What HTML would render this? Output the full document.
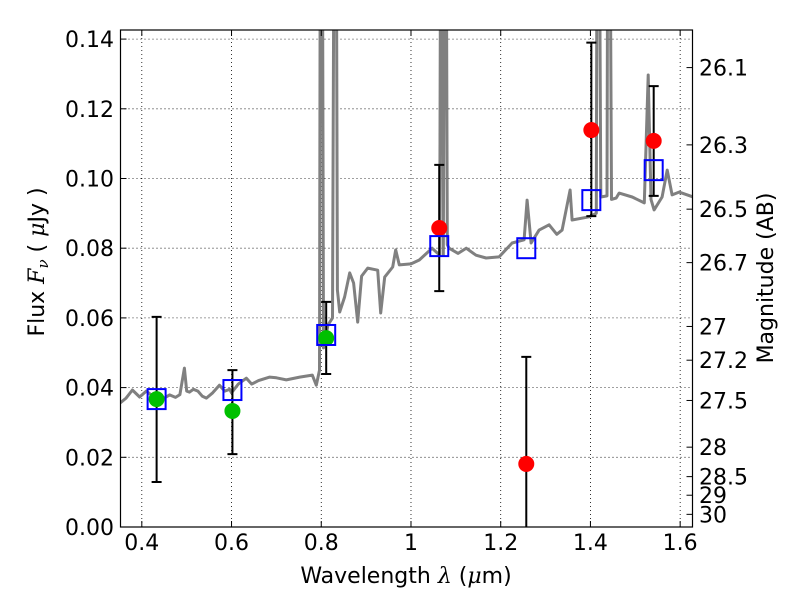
<!DOCTYPE html>
<html><head><meta charset="utf-8"><style>
body{margin:0;background:#fff}
svg text{font-family:"DejaVu Sans","Liberation Sans",sans-serif;fill:#000}
</style></head><body>
<svg id="chart" width="800" height="600" xmlns="http://www.w3.org/2000/svg">
<rect width="800" height="600" fill="#fff"/>
<g id="grid"></g><g id="spec"></g><g id="marks"></g><g id="axes"></g>
</svg>
<script>
const xTicks=[0.4,0.6,0.8,1.0,1.2,1.4,1.6];
const xTickLabels=["0.4","0.6","0.8","1","1.2","1.4","1.6"];
const yTicks=[0,0.02,0.04,0.06,0.08,0.10,0.12,0.14];
const yTickLabels=["0.00","0.02","0.04","0.06","0.08","0.10","0.12","0.14"];
const magTicks=[26.1,26.3,26.5,26.7,27,27.2,27.5,28,28.5,29,30];
const magTickLabels=["26.1","26.3","26.5","26.7","27","27.2","27.5","28","28.5","29","30"];
const specLam=[0.352,0.365,0.379,0.395,0.41,0.42,0.44,0.45,0.462,0.475,0.485,0.495,0.5,0.506,0.515,0.525,0.535,0.544,0.558,0.573,0.585,0.596,0.6,0.615,0.633,0.645,0.66,0.685,0.7,0.722,0.752,0.78,0.789,0.796,0.798,0.802,0.805,0.815,0.825,0.829,0.833,0.836,0.841,0.852,0.8635,0.872,0.8813,0.89,0.9036,0.9259,0.9326,0.9415,0.9593,0.966,0.9739,1.0,1.0185,1.047,1.064,1.0665,1.069,1.072,1.0755,1.078,1.081,1.085,1.105,1.123,1.145,1.1675,1.1965,1.2254,1.2522,1.2588,1.2677,1.2856,1.3079,1.325,1.3368,1.3546,1.3591,1.397,1.413,1.415,1.419,1.423,1.437,1.439,1.443,1.447,1.4574,1.464,1.493,1.52,1.5287,1.535,1.542,1.5598,1.571,1.582,1.5977,1.629];
const specFlux=[0.0356,0.037,0.0393,0.0373,0.039,0.038,0.0365,0.037,0.0379,0.0372,0.038,0.0456,0.039,0.0387,0.0395,0.039,0.0375,0.037,0.0385,0.0407,0.039,0.0395,0.0385,0.041,0.0427,0.041,0.042,0.043,0.0428,0.0422,0.043,0.0436,0.0407,0.045,0.2,0.2,0.0514,0.058,0.06,0.2,0.2,0.068,0.0617,0.066,0.0729,0.07,0.0588,0.072,0.0743,0.0737,0.0614,0.0717,0.0746,0.0795,0.0752,0.0755,0.0766,0.080,0.078,0.2,0.2,0.078,0.2,0.2,0.081,0.080,0.0785,0.080,0.078,0.0772,0.0775,0.0815,0.0824,0.0938,0.0815,0.0852,0.0867,0.084,0.0852,0.0967,0.0881,0.089,0.09,0.2,0.2,0.0947,0.095,0.2,0.2,0.094,0.0944,0.0958,0.0947,0.093,0.1297,0.094,0.091,0.0947,0.1024,0.0953,0.0961,0.0947];
const modelLam=[0.433,0.602,0.811,1.063,1.257,1.402,1.541];
const modelFlux=[0.0367,0.0393,0.0551,0.0806,0.080,0.0938,0.1024];
const greenLam=[0.433,0.602,0.811];
const greenFlux=[0.0367,0.0333,0.0542];
const greenHi=[0.0603,0.045,0.0646];
const greenLo=[0.0129,0.0209,0.0439];
const redLam=[1.063,1.257,1.402,1.541];
const redFlux=[0.0858,0.0181,0.1139,0.1108];
const redHi=[0.1039,0.0488,0.139,0.1265];
const redLo=[0.0677,-0.01,0.0892,0.095];

const L=120.5,R=692.5,T=30,B=527;
const xMin=0.3525,xMax=1.6275,yMin=0,yMax=0.14261;
const sx=v=>L+(v-xMin)/(xMax-xMin)*(R-L);
const sy=v=>B-(v-yMin)/(yMax-yMin)*(B-T);
const NS="http://www.w3.org/2000/svg";
function mk(parent,tag,attrs){const e=document.createElementNS(NS,tag);for(const k in attrs)e.setAttribute(k,attrs[k]);document.getElementById(parent).appendChild(e);return e;}

xTicks.forEach((t,i)=>{
 const g=mk('grid','line',{x1:sx(t),x2:sx(t),y1:T,y2:B,stroke:'#000','stroke-width':0.8,'stroke-dasharray':'1,3'});
 
 
});
yTicks.forEach((t,i)=>{
 const g=mk('grid','line',{x1:L,x2:R,y1:sy(t),y2:sy(t),stroke:'#000','stroke-width':0.8,'stroke-dasharray':'1,3'});
 
 
});
mk('spec','clipPath',{id:'pc'});
mk('pc','rect',{x:L,y:T,width:R-L,height:B-T});
const pts=specLam.map((l,i)=>sx(l).toFixed(1)+','+sy(specFlux[i]).toFixed(1)).join(' ');
const sp=mk('spec','polyline',{points:pts,fill:'none',stroke:'#808080','stroke-width':3,'stroke-linejoin':'round','clip-path':'url(#pc)'});


function err(lam,lo,hi){
 const x=sx(lam),y1=Math.min(sy(lo),B),y2=sy(hi);
 const e=mk('marks','path',{d:`M${x},${y1}V${y2}M${x-5},${y2}H${x+5}`+(sy(lo)<B?`M${x-5},${y1}H${x+5}`:''),stroke:'#000','stroke-width':2,fill:'none'});
 
 
}
greenLam.forEach((l,i)=>err(l,greenLo[i],greenHi[i]));
redLam.forEach((l,i)=>err(l,redLo[i],redHi[i]));
greenLam.forEach((l,i)=>{
 const c=mk('marks','circle',{cx:sx(l),cy:sy(greenFlux[i]),r:8,fill:'#00c000'});
 
 
});
redLam.forEach((l,i)=>{
 const c=mk('marks','circle',{cx:sx(l),cy:sy(redFlux[i]),r:8,fill:'#ff0000'});
 
 
});
modelLam.forEach((l,i)=>{
 const r=mk('marks','rect',{x:sx(l)-9,y:sy(modelFlux[i])-10,width:18,height:20,fill:'none',stroke:'#0000ff','stroke-width':2});
 
 
});
const fr=mk('axes','rect',{x:L,y:T,width:R-L,height:B-T,fill:'none',stroke:'#000','stroke-width':1.2});


xTicks.forEach((t,i)=>{
 const x=sx(t);
 const tk=mk('axes','path',{d:`M${x},${B}v-6M${x},${T}v6`,stroke:'#000'});
 
 
 const tx=mk('axes','text',{x:x,y:550,'text-anchor':'middle','font-size':22});
 tx.textContent=xTickLabels[i];
 
 
});
yTicks.forEach((t,i)=>{
 const y=sy(t);
 const tk=mk('axes','path',{d:`M${L},${y}h6`,stroke:'#000'});
 
 
 const tx=mk('axes','text',{x:114,y:y+8,'text-anchor':'end','font-size':22});
 tx.textContent=yTickLabels[i];
 
 
});
magTicks.forEach((m,i)=>{
 const y=sy(Math.pow(10,-(m-23.9)/2.5));
 const tk=mk('axes','path',{d:`M${R},${y}h-6`,stroke:'#000'});
 
 
 const tx=mk('axes','text',{x:699,y:y+8,'font-size':22});
 tx.textContent=magTickLabels[i];
 
 
});
</script>
<svg style="position:absolute;left:0;top:0" width="800" height="600" xmlns="http://www.w3.org/2000/svg">
<text x="406" y="583" text-anchor="middle" font-size="22" font-family="DejaVu Sans, Liberation Sans, sans-serif">Wavelength  <tspan font-family="DejaVu Serif, serif" font-style="italic">λ</tspan> (<tspan font-family="DejaVu Serif, serif" font-style="italic">μ</tspan>m)</text>
<text transform="translate(44,262) rotate(-90)" text-anchor="middle" font-size="22" font-family="DejaVu Sans, Liberation Sans, sans-serif">Flux  <tspan font-family="DejaVu Serif, serif" font-style="italic">F</tspan><tspan font-family="DejaVu Serif, serif" font-style="italic" font-size="15" dy="4">ν</tspan><tspan dy="-4">  ( </tspan><tspan font-family="DejaVu Serif, serif" font-style="italic">μ</tspan>Jy )</text>
<text transform="translate(773,278) rotate(-90)" text-anchor="middle" font-size="22" font-family="DejaVu Sans, Liberation Sans, sans-serif">Magnitude (AB)</text>
</svg>
</body></html>
